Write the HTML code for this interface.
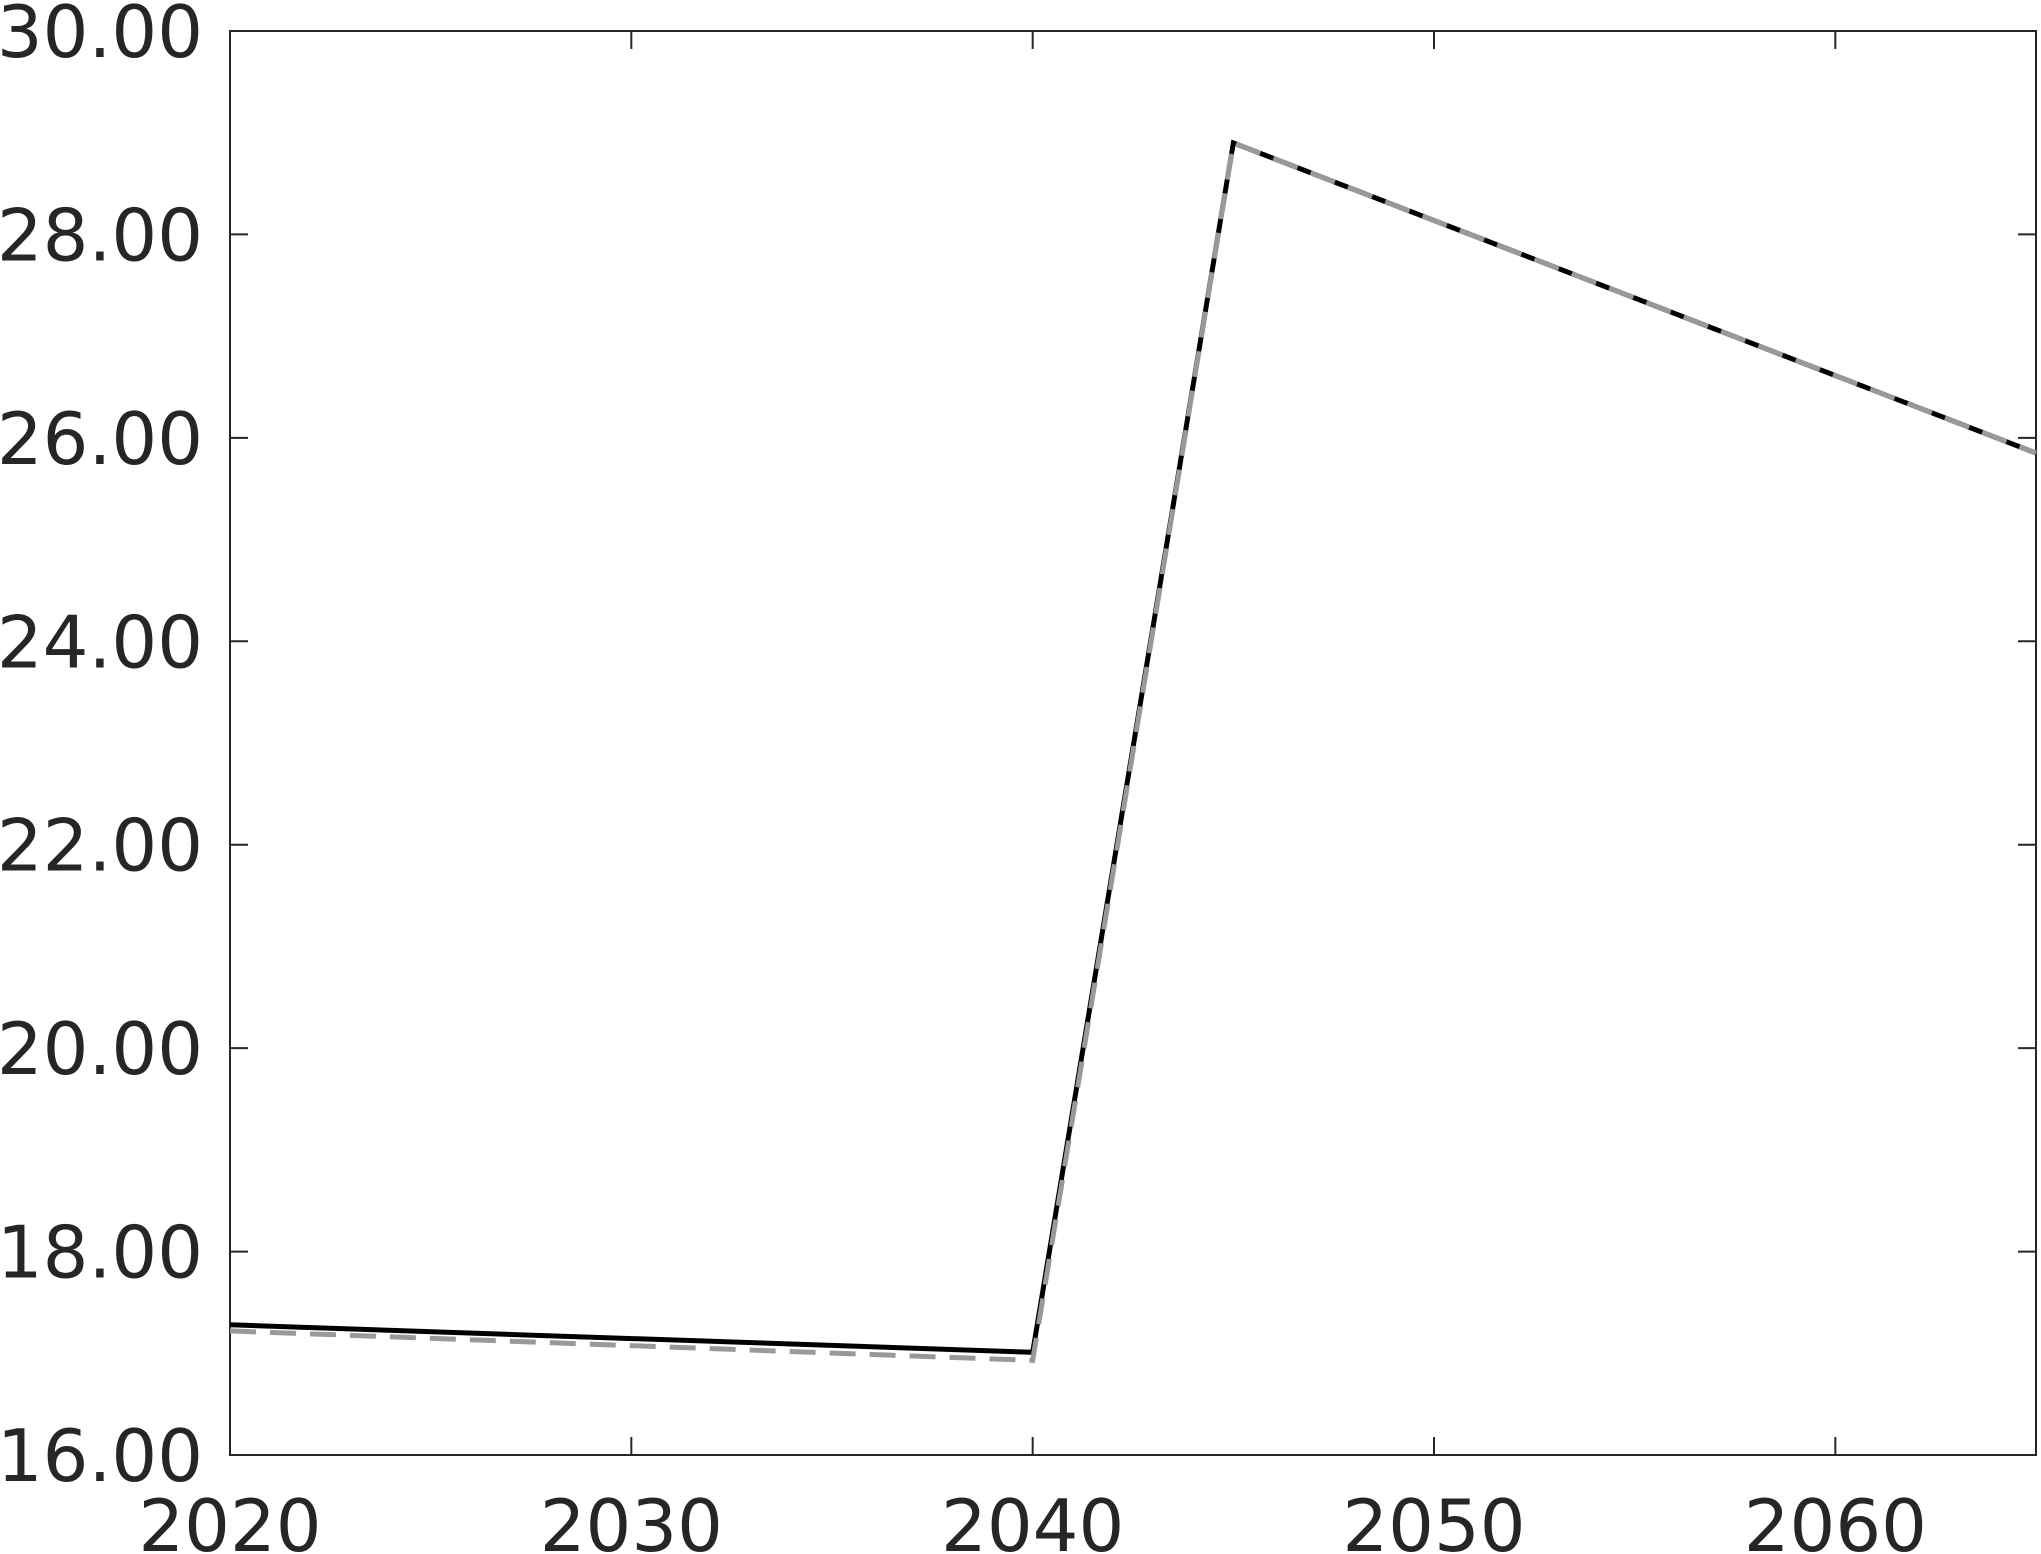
<!DOCTYPE html>
<html><head><meta charset="utf-8"><style>
html,body{margin:0;padding:0;background:#fff;}
svg{display:block;}
text{font-family:"DejaVu Sans","Liberation Sans",sans-serif;fill:#262626;}
</style></head><body>
<svg id="chart" width="2041" height="1554" viewBox="0 0 2041 1554" xmlns="http://www.w3.org/2000/svg">
<g id="axes"></g>
<g id="series"></g>
</svg>
<script>
const years = [2020, 2040, 2045, 2065];
const seriesSolid = [17.28, 17.01, 28.9, 25.85];
const seriesDashed = [17.22, 16.93, 28.9, 25.85];
const xTicks = [2020, 2030, 2040, 2050, 2060];
const yTicks = [16, 18, 20, 22, 24, 26, 28, 30];

const NS = "http://www.w3.org/2000/svg";
const L = 230, R = 2036, T = 31, B = 1455;
const xMin = 2020, xMax = 2065, yMin = 16, yMax = 30;
const xs = v => L + (v - xMin) / (xMax - xMin) * (R - L);
const ys = v => B - (v - yMin) / (yMax - yMin) * (B - T);
function mk(tag, attrs, parent) {
  const e = document.createElementNS(NS, tag);
  for (const k in attrs) e.setAttribute(k, attrs[k]);
  parent.appendChild(e);
  return e;
}
const axes = document.getElementById('axes');
const series = document.getElementById('series');
const frame = mk('rect', {x: L, y: T, width: R - L, height: B - T, fill: 'none', stroke: '#262626', 'stroke-width': 2}, axes);


const tl = 18;
xTicks.forEach(v => {
  const x = xs(v);
  const t1 = mk('line', {x1: x, y1: B, x2: x, y2: B - tl, stroke: '#262626', 'stroke-width': 2}, axes);
  
  
  const t2 = mk('line', {x1: x, y1: T, x2: x, y2: T + tl, stroke: '#262626', 'stroke-width': 2}, axes);
  
  
  const lab = mk('text', {x: x, y: 1551, 'font-size': 72, 'text-anchor': 'middle'}, axes);
  lab.textContent = v;
  
  
});
yTicks.forEach(v => {
  const y = ys(v);
  const t1 = mk('line', {x1: L, y1: y, x2: L + tl, y2: y, stroke: '#262626', 'stroke-width': 2}, axes);
  
  
  const t2 = mk('line', {x1: R, y1: y, x2: R - tl, y2: y, stroke: '#262626', 'stroke-width': 2}, axes);
  
  
  const lab = mk('text', {x: 203, y: y + 26, 'font-size': 72, 'text-anchor': 'end'}, axes);
  lab.textContent = v.toFixed(2);
  
  
});
const pts = arr => years.map((yr, i) => xs(yr) + ',' + ys(arr[i])).join(' ');
const solid = mk('polyline', {points: pts(seriesSolid), fill: 'none', stroke: '#000', 'stroke-width': 5}, series);


const dashed = mk('polyline', {points: pts(seriesDashed), fill: 'none', stroke: '#999', 'stroke-width': 5, 'stroke-dasharray': '26 14'}, series);


</script>
</body></html>
